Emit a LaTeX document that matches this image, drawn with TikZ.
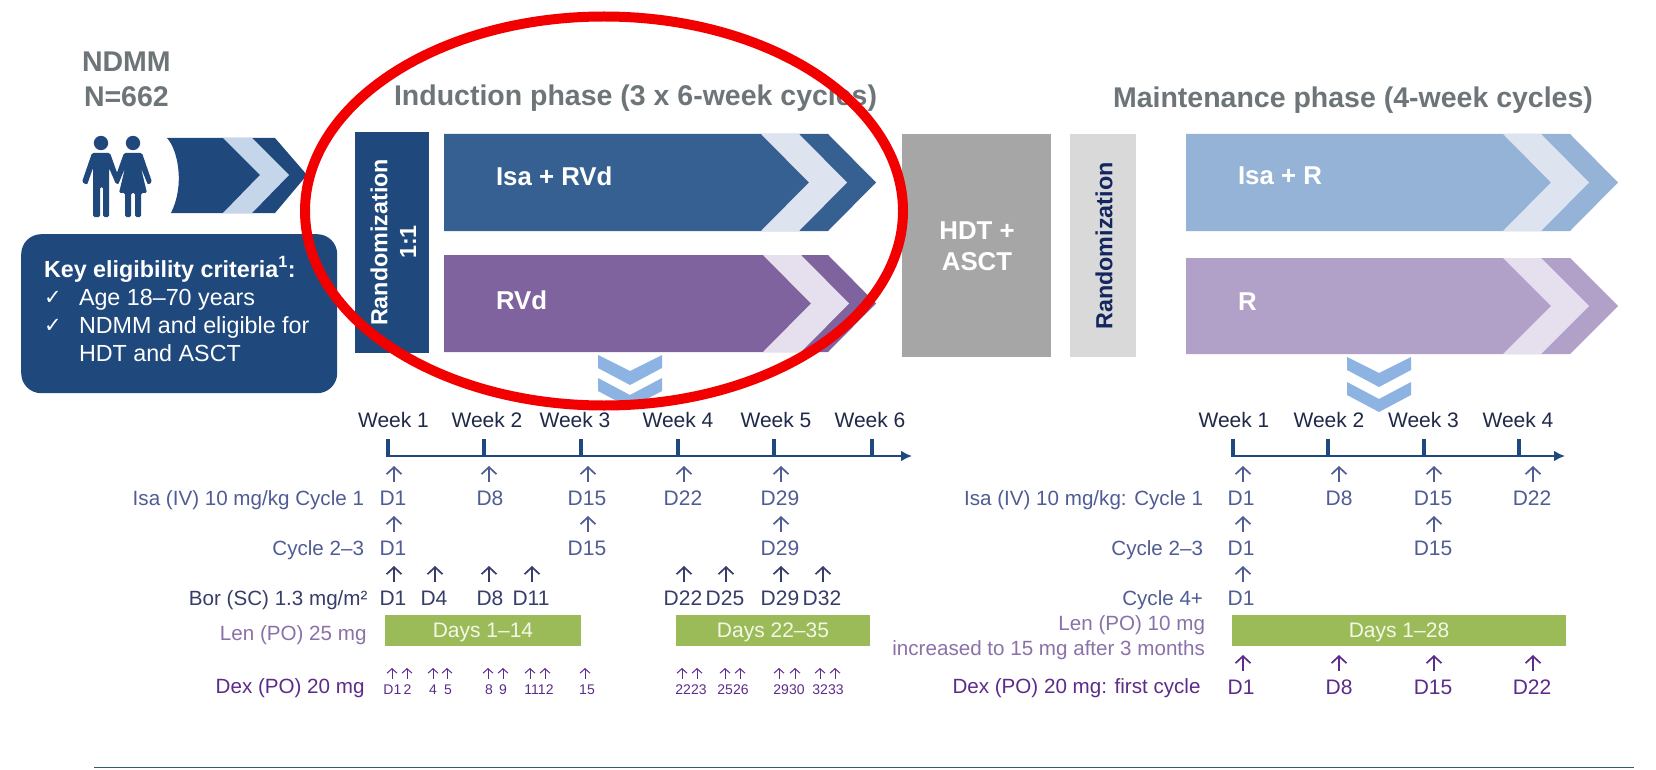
\documentclass[tikz,border=0pt]{standalone}
\usepackage{fontspec}
\setmainfont{Liberation Sans}
\newfontfamily\dejavu{DejaVu Sans}
\usetikzlibrary{arrows.meta}
\definecolor{navy}{HTML}{1F497D}
\definecolor{headgray}{HTML}{6D7579}
\definecolor{isablue}{HTML}{356091}
\definecolor{rvdpurple}{HTML}{7F639F}
\definecolor{rblue}{HTML}{95B3D7}
\definecolor{rpurple}{HTML}{B1A0C7}
\definecolor{lightblue}{HTML}{DDE4F0}
\definecolor{lightpurple}{HTML}{E5DFEE}
\definecolor{entrylight}{HTML}{C5D5EA}
\definecolor{chevblue}{HTML}{8DB3E2}
\definecolor{greenbar}{HTML}{9BBB59}
\definecolor{greentext}{HTML}{F4F7E8}
\definecolor{weekink}{HTML}{1F2A48}
\definecolor{isaink}{HTML}{505C94}
\definecolor{borink}{HTML}{363D6A}
\definecolor{lenink}{HTML}{8A72A8}
\definecolor{dexink}{HTML}{5B2C8A}
\definecolor{randink}{HTML}{14265F}
\definecolor{ruleink}{HTML}{2E5E6E}
\definecolor{ringred}{HTML}{F20000}
\tikzset{
  x=1pt,y=-1pt,
  txt/.style={inner sep=0pt,outer sep=0pt,font=\fontsize{21}{25}\selectfont},
  head/.style={txt,anchor=base west,text=headgray,font=\fontsize{28.5}{33}\selectfont\bfseries},
  rowlabel/.style={txt,anchor=base east,font=\fontsize{20.6}{25}\selectfont},
  armlabel/.style={txt,anchor=west,text=white,font=\fontsize{25.8}{30}\selectfont\bfseries},
  boxlabel/.style={txt,text=white,font=\fontsize{25.8}{31}\selectfont\bfseries,align=center},
  randlabel/.style={txt,text=white,rotate=90,anchor=center,font=\fontsize{23.3}{28}\selectfont\bfseries},
  week/.style={txt,anchor=base,text=weekink},
  daylabel/.style={txt,anchor=base},
  small/.style={txt,anchor=base,text=dexink,font=\fontsize{14}{16}\selectfont},
  bar/.style={fill=greenbar,draw=none},
  bartext/.style={txt,text=greentext,anchor=base},
  keybold/.style={txt,anchor=base west,text=white,font=\fontsize{23.3}{27}\selectfont\bfseries},
  keytext/.style={txt,anchor=base west,text=white,font=\fontsize{23.3}{28}\selectfont},
  keycheck/.style={txt,anchor=base west,text=white,font=\fontsize{21}{24}\dejavu},
  axisline/.style={draw=navy,line width=2.6pt},
  tick/.style={draw=navy,line width=3.6pt},
  upbig/.style={line width=1.7pt,-{Straight Barb[length=7pt,width=15pt]}},
  upsmall/.style={line width=1pt,-{Straight Barb[length=4.5pt,width=10pt]}}
}
% name, arrow x, label x, arrow top y, colour, text
\newcommand{\dosebig}[6]{%
  \node[daylabel,text=#5] (#1) at (#3,#4+39) {#6};
  \coordinate (#1-b) at (#2,#4+16);
  \coordinate (#1-t) at (#2,#4);
  \draw[upbig,draw=#5] (#1-b) -- (#1-t);
}
\newcommand{\dosesmall}[2]{%
  \coordinate (#1-b) at (#2,679);
  \coordinate (#1-t) at (#2,668);
  \draw[upsmall,draw=dexink] (#1-b) -- (#1-t);
}
\newcommand{\armshape}[7]{% name, top y, bottom y, left x, dark colour, light colour, light dx
  \pgfmathsetmacro{\my}{(#2+#3)/2}
  \fill[#5] (#4,#2) -- (#4+384,#2) -- (#4+432,\my) -- (#4+384,#3) -- (#4,#3) -- cycle;
  \fill[#6] (#4+317+#7,#2) -- (#4+355+#7,#2) -- (#4+403+#7,\my) -- (#4+355+#7,#3) -- (#4+317+#7,#3) -- (#4+365+#7,\my) -- cycle;
  \coordinate (#1) at (#4,\my);
}
\newcommand{\doublechev}[3]{% left x, top y, offset of second
  \fill[chevblue] (#1,#2) -- (#1+32,#2+16) -- (#1+64,#2) -- (#1+64,#2+13) -- (#1+32,#2+30) -- (#1,#2+13) -- cycle;
  \fill[chevblue] (#1,#2+#3) -- (#1+32,#2+#3+17) -- (#1+64,#2+#3) -- (#1+64,#2+#3+13) -- (#1+32,#2+#3+30) -- (#1,#2+#3+13) -- cycle;
}
\begin{document}
\begin{tikzpicture}
\useasboundingbox (0,0) rectangle (1656,770);
\fill[white] (0,0) rectangle (1656,770);

% headings
\node[head] (ndmm) at (82,72) {NDMM};
\node[head] (n662) at (84,107) {N=662};
\node[head] (indhead) at (394,106) {Induction phase (3 x 6-week cycles)};
\node[head] (mainthead) at (1113,108) {Maintenance phase (4-week cycles)};

% people
\fill[navy] (101,143) circle (7.2);
\fill[navy] (133,143) circle (7.2);
\fill[navy,rounded corners=1.5pt] (92,153) -- (110,153) -- (120,181) -- (116,184) -- (109,168) -- (109,217) -- (103,217) -- (103,187) -- (100,187) -- (100,217) -- (93,217) -- (93,168) -- (87,185) -- (82,182) -- cycle;
\fill[navy,rounded corners=1.5pt] (124,153) -- (142,153) -- (152,182) -- (148,185) -- (141,168) -- (147,193) -- (141,193) -- (141,217) -- (135,217) -- (135,193) -- (131,193) -- (131,217) -- (125,217) -- (125,193) -- (119,193) -- (125,168) -- (118,185) -- (114,181) -- cycle;

% entry chevron
\fill[navy] (167,138) .. controls (178,150) and (185,185) .. (171,213) -- (275,213) -- (307,175) -- (275,138) -- cycle;
\fill[entrylight] (223,138) -- (252,138) -- (289,175) -- (252,213) -- (223,213) -- (260,175) -- cycle;

% key criteria
\node[draw=none,fill=navy,rounded corners=20pt,minimum width=316pt,minimum height=159pt,inner sep=0pt,anchor=north west] (keybox) at (21,234) {};
\node[keybold] (k1) at (44,277) {Key eligibility criteria\textsuperscript{1}:};
\node[keycheck] (c1) at (44,304) {✓};
\node[keytext] (k2) at (79,305) {Age 18–70 years};
\node[keycheck] (c2) at (44,332) {✓};
\node[keytext] (k3) at (79,333) {NDMM and eligible for};
\node[keytext] (k4) at (79,361) {HDT and ASCT};

% randomization 1:1
\fill[navy] (355,132) rectangle (429,353);
\node[randlabel] (rand1) at (379,242.5) {Randomization};
\node[randlabel] (rand2) at (408,242) {1:1};

% arms
\armshape{isaarm}{134}{231}{444}{isablue}{lightblue}{0}
\armshape{rvdarm}{255}{352}{444}{rvdpurple}{lightpurple}{2}
\armshape{isararm}{134}{231}{1186}{rblue}{lightblue}{0}
\armshape{rarm}{258}{354}{1186}{rpurple}{lightpurple}{0}
\node[armlabel] (isalab) at (496,176) {Isa + RVd};
\node[armlabel] (rvdlab) at (496,300) {RVd};
\node[armlabel] (isarlab) at (1238,176) {Isa + R};
\node[armlabel] (rlab) at (1238,302) {R};

% HDT box
\fill[black!35] (902,134) rectangle (1051,357);
\node[boxlabel] (hdt) at (977,246.5) {HDT +\\ASCT};

% randomization 2
\fill[black!15] (1070,134) rectangle (1136,357);
\node[randlabel,text=randink] (rand3) at (1104,246) {Randomization};

% expand chevrons
\doublechev{598}{355}{23}
\doublechev{1347}{357}{25}

% induction timeline
\coordinate (ia) at (386,456);
\coordinate (ib) at (912,456);
\draw[axisline,-{Latex[length=11pt,width=11pt]}] (ia) -- (ib);
\foreach \t in {388,484,581,678,774,872} \draw[tick] (\t,439) -- (\t,457);
\node[week] (w1) at (393.5,427) {Week 1};
\node[week] (w2) at (487,427) {Week 2};
\node[week] (w3) at (575,427) {Week 3};
\node[week] (w4) at (678,427) {Week 4};
\node[week] (w5) at (776,427) {Week 5};
\node[week] (w6) at (870,427) {Week 6};

% induction labels
\node[rowlabel,text=isaink] (l1) at (364,505) {Isa (IV) 10 mg/kg Cycle 1};
\node[rowlabel,text=isaink] (l2) at (364,555) {Cycle 2–3};
\node[rowlabel,text=borink] (l3) at (367.5,605) {Bor (SC) 1.3 mg/m²};
\node[rowlabel,text=lenink] (l4) at (366.5,640) {Len (PO) 25 mg};
\node[rowlabel,text=dexink] (l5) at (364.5,693) {Dex (PO) 20 mg};

\dosebig{a1}{394}{393}{466}{isaink}{D1}
\dosebig{a2}{489}{490}{466}{isaink}{D8}
\dosebig{a3}{588}{587}{466}{isaink}{D15}
\dosebig{a4}{684}{683}{466}{isaink}{D22}
\dosebig{a5}{781}{780}{466}{isaink}{D29}
\dosebig{b1}{394}{393}{516}{isaink}{D1}
\dosebig{b2}{588}{587}{516}{isaink}{D15}
\dosebig{b3}{781}{780}{516}{isaink}{D29}
\dosebig{c1a}{394}{393}{566}{borink}{D1}
\dosebig{c2a}{435}{434}{566}{borink}{D4}
\dosebig{c3a}{489}{490}{566}{borink}{D8}
\dosebig{c4a}{532}{531}{566}{borink}{D11}
\dosebig{c5a}{684}{683}{566}{borink}{D22}
\dosebig{c6a}{726}{725}{566}{borink}{D25}
\dosebig{c7a}{781}{780}{566}{borink}{D29}
\dosebig{c8a}{823}{822}{566}{borink}{D32}

% induction bars
\node[bar,minimum width=196pt,minimum height=31pt,inner sep=0pt,anchor=north west] (bar1) at (385,615) {};
\node[bartext] (bar1t) at (483,637) {Days 1–14};
\node[bar,minimum width=194pt,minimum height=31pt,inner sep=0pt,anchor=north west] (bar2) at (676,615) {};
\node[bartext] (bar2t) at (773,637) {Days 22–35};

% dex small
\foreach \n/\x in {s1/392,s2/407,s4/433,s5/447,s8/488,s9/503,s11/530,s12/545,s15/585,s22/682,s23/697,s25/725,s26/740,s29/779,s30/795,s32/820,s33/835}{\dosesmall{\n}{\x}}
\node[small] (t1) at (397.5,694) {D1\,2};
\node[small] (t4) at (433,694) {4};
\node[small] (t5) at (448,694) {5};
\node[small] (t8) at (489,694) {8};
\node[small] (t9) at (503,694) {9};
\node[small] (t11) at (539,694) {1112};
\node[small] (t15) at (587,694) {15};
\node[small] (t22) at (691,694) {2223};
\node[small] (t25) at (733,694) {2526};
\node[small] (t29) at (789,694) {2930};
\node[small] (t32) at (828,694) {3233};

% maintenance timeline
\coordinate (ma) at (1232,456);
\coordinate (mb) at (1565,456);
\draw[axisline,-{Latex[length=11pt,width=11pt]}] (ma) -- (mb);
\foreach \t in {1233,1328,1424,1519} \draw[tick] (\t,439) -- (\t,457);
\node[week] (mw1) at (1234,427) {Week 1};
\node[week] (mw2) at (1329,427) {Week 2};
\node[week] (mw3) at (1423.5,427) {Week 3};
\node[week] (mw4) at (1518,427) {Week 4};

% maintenance labels
\node[rowlabel,text=isaink] (m1) at (1203,505) {Isa (IV) 10 mg/kg: Cycle 1};
\node[rowlabel,text=isaink] (m2) at (1203,555) {Cycle 2–3};
\node[rowlabel,text=isaink] (m3) at (1203,605) {Cycle 4+};
\node[rowlabel,text=lenink] (m4) at (1205,630) {Len (PO) 10 mg};
\node[rowlabel,text=lenink] (m5) at (1205,655) {increased to 15 mg after 3 months};
\node[rowlabel,text=dexink] (m6) at (1200.5,693.5) {Dex (PO) 20 mg: first cycle};

\dosebig{d1}{1243}{1241}{466}{isaink}{D1}
\dosebig{d2}{1339}{1339}{466}{isaink}{D8}
\dosebig{d3}{1434}{1433}{466}{isaink}{D15}
\dosebig{d4}{1533}{1532}{466}{isaink}{D22}
\dosebig{e1}{1243}{1241}{516}{isaink}{D1}
\dosebig{e2}{1434}{1433}{516}{isaink}{D15}
\dosebig{f1}{1243}{1241}{566}{isaink}{D1}
\dosebig{g1}{1243}{1241}{655}{dexink}{D1}
\dosebig{g2}{1339}{1339}{655}{dexink}{D8}
\dosebig{g3}{1434}{1433}{655}{dexink}{D15}
\dosebig{g4}{1533}{1532}{655}{dexink}{D22}

\node[bar,minimum width=334pt,minimum height=31pt,inner sep=0pt,anchor=north west] (bar3) at (1232,615) {};
\node[bartext] (bar3t) at (1399,637) {Days 1–28};

% bottom rule
\coordinate (ra) at (94,767);
\coordinate (rb) at (1634,767);
\draw[ruleink,line width=1pt] (ra) -- (rb);

% red ellipse
\draw[ringred,line width=10pt] (604,211) ellipse (299 and 194.5);
\end{tikzpicture}
\end{document}
